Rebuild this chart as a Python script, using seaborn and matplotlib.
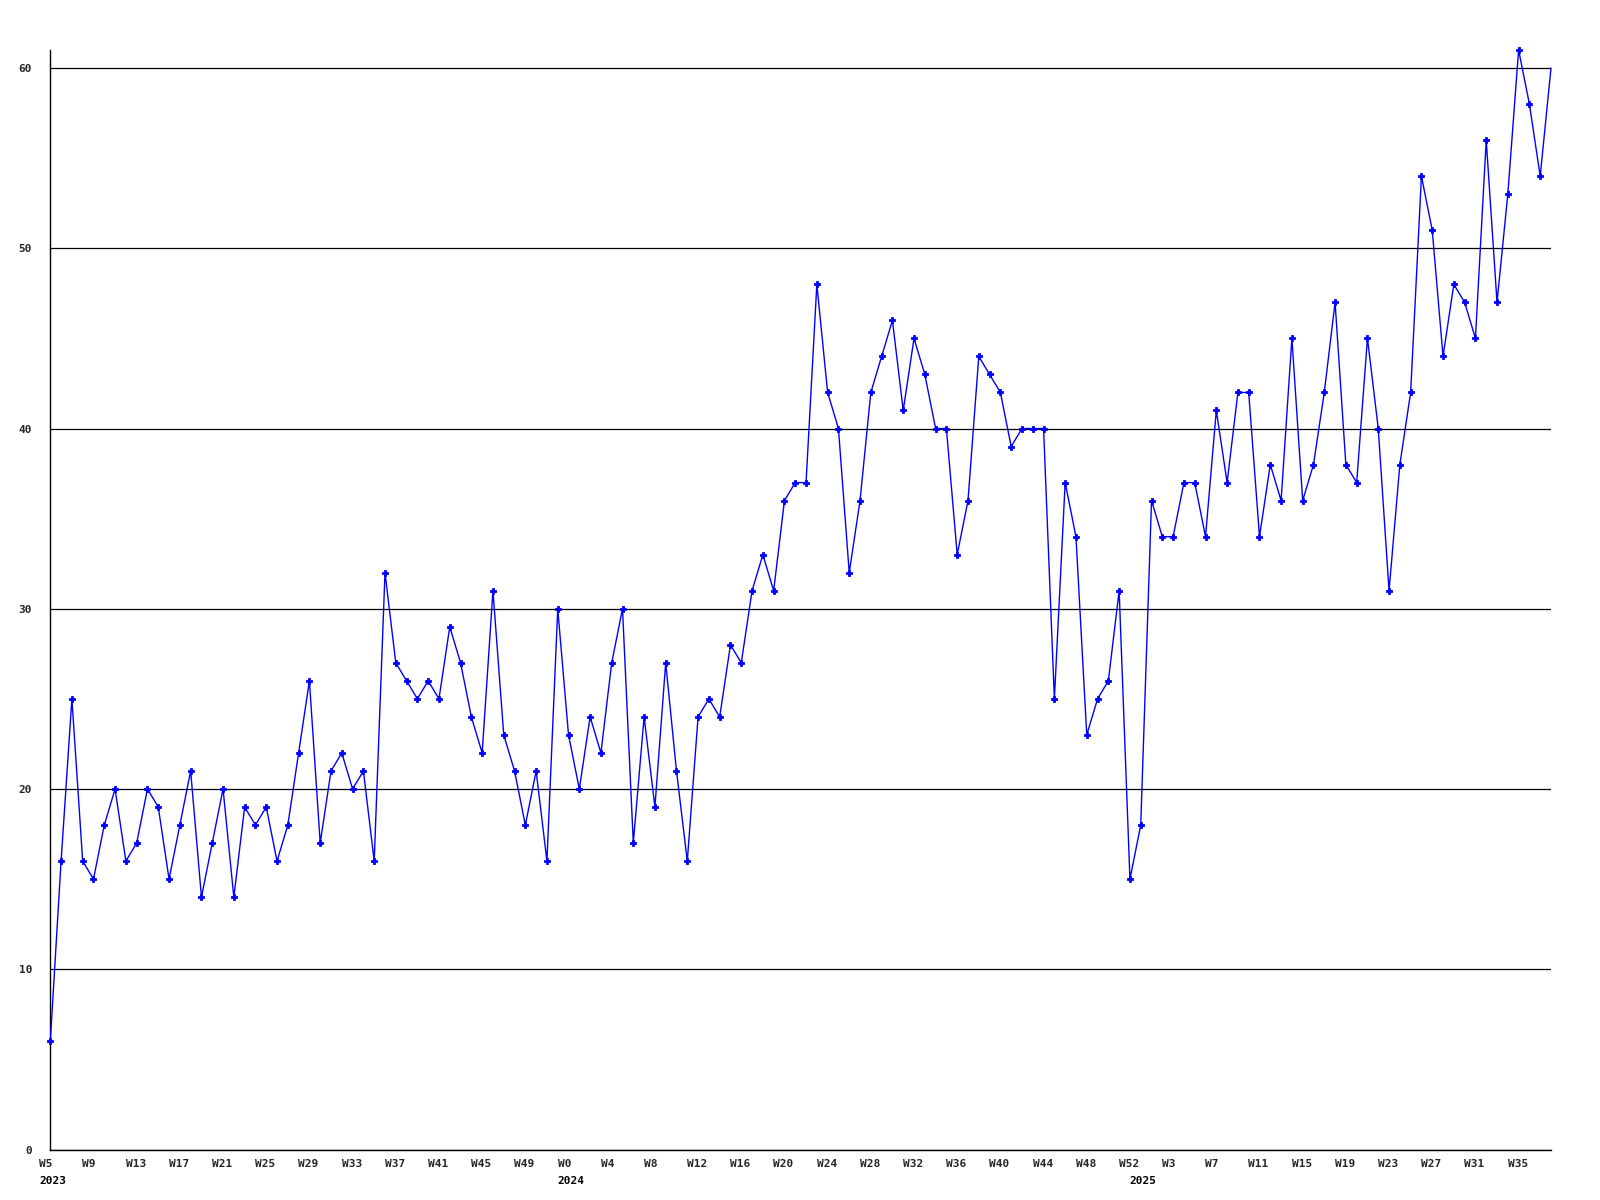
import matplotlib
matplotlib.use("Agg")
import matplotlib.pyplot as plt
import matplotlib.transforms as mtrans
import seaborn as sns
import pandas as pd

# Weekly values, W5 2023 .. W38 2025
values = [
    6, 16, 25, 16, 15, 18, 20, 16, 17, 20, 19, 15, 18, 21, 14, 17, 20, 14, 19, 18,
    19, 16, 18, 22, 26, 17, 21, 22, 20, 21, 16, 32, 27, 26, 25, 26, 25, 29, 27, 24,
    22, 31, 23, 21, 18, 21, 16, 30, 23, 20, 24, 22, 27, 30, 17, 24, 19, 27, 21, 16,
    24, 25, 24, 28, 27, 31, 33, 31, 36, 37, 37, 48, 42, 40, 32, 36, 42, 44, 46, 41,
    45, 43, 40, 40, 33, 36, 44, 43, 42, 39, 40, 40, 40, 25, 37, 34, 23, 25, 26, 31,
    15, 18, 36, 34, 34, 37, 37, 34, 41, 37, 42, 42, 34, 38, 36, 45, 36, 38, 42, 47,
    38, 37, 45, 40, 31, 38, 42, 54, 51, 44, 48, 47, 45, 56, 47, 53, 61, 58, 54, 60,
]

tick_labels = [
    "W5", "W9", "W13", "W17", "W21", "W25", "W29", "W33", "W37", "W41", "W45", "W49",
    "W0", "W4", "W8", "W12", "W16", "W20", "W24", "W28", "W32", "W36", "W40", "W44",
    "W48", "W52", "W3", "W7", "W11", "W15", "W19", "W23", "W27", "W31", "W35",
]
year_labels = ["2023", "2024", "2025"]
year_start_index = [0, 48, 101]
y_ticks = [0, 10, 20, 30, 40, 50, 60]

df = pd.DataFrame({"i": range(len(values)), "v": values})

sns.set_style("white")
plt.rcParams["font.family"] = ["DejaVu Sans Mono", "DejaVu Sans"]

fig = plt.figure(figsize=(16, 12), dpi=100)
ax = fig.add_axes([50.3 / 1600, 1 - 1149.5 / 1200, (1551 - 50.3) / 1600, (1149.5 - 50) / 1200])

sns.lineplot(data=df, x="i", y="v", ax=ax, color="#0000ff", linewidth=1.0,
             marker="P", markersize=4.5, markeredgewidth=0.6, markeredgecolor="#0000ff",
             clip_on=False, markevery=list(range(len(values) - 1)), zorder=3)

ax.set_xlim(0, len(values) - 1)
ax.set_ylim(0, 61)
ax.set_xlabel("")
ax.set_ylabel("")

ax.set_yticks(y_ticks)
ax.set_yticklabels([str(t) for t in y_ticks], fontsize=8, fontweight="bold")
ax.yaxis.grid(True, color="black", linewidth=0.9)
ax.xaxis.grid(False)
ax.set_axisbelow(True)

tick_pos = list(range(0, len(values), 4))[:len(tick_labels)]
ax.set_xticks(tick_pos)
ax.set_xticklabels(tick_labels, fontsize=8, fontweight="bold")
ax.tick_params(axis="y", length=0, pad=13)
ax.tick_params(axis="x", length=0, pad=7)

offset = mtrans.ScaledTranslation(-11 / 100, 0, fig.dpi_scale_trans)
for lab in ax.get_xticklabels():
    lab.set_horizontalalignment("left")
    lab.set_transform(lab.get_transform() + offset)

trans = mtrans.blended_transform_factory(ax.transData, ax.transAxes) + \
    mtrans.ScaledTranslation(-11 / 100, 0, fig.dpi_scale_trans)
for idx, yl in zip(year_start_index, year_labels):
    ax.text(idx, -0.0245, yl, transform=trans, ha="left", va="top",
            fontsize=8, fontweight="bold", color="black")

for s in ["top", "right"]:
    ax.spines[s].set_visible(False)
for s in ["left", "bottom"]:
    ax.spines[s].set_color("black")
    ax.spines[s].set_linewidth(1.0)

fig.savefig("out.png", dpi=100, facecolor="white")
